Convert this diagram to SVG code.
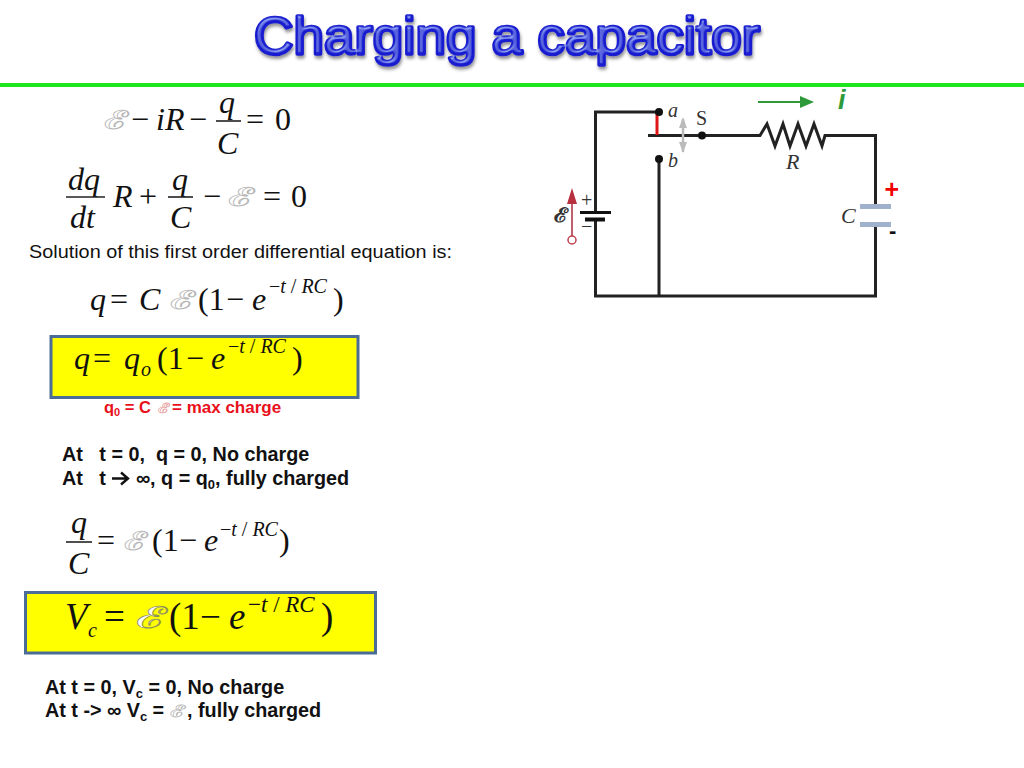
<svg xmlns="http://www.w3.org/2000/svg" width="1024" height="768" viewBox="0 0 1024 768">
<style>
.m{font-family:"Liberation Serif","Times New Roman",serif;font-size:32px;fill:#111}
.i{font-style:italic}
.s{font-size:20px}
.sc{font-family:"DejaVu Serif","Liberation Serif",serif;font-size:26px;fill:#fff;stroke:#b4b4b4;stroke-width:.6px}
.t{font-family:"Liberation Sans",Arial,sans-serif;font-weight:700;font-size:19.800px;fill:#111;white-space:pre}
.frac{stroke:#222;stroke-width:1.6;fill:none}
.w{stroke:#222;stroke-width:3;fill:none;stroke-linejoin:miter}
.l{font-family:"Liberation Serif",serif;font-size:20px;fill:#333}
.box{fill:#ffff00;stroke:#4a6c96;stroke-width:3}
.title{font-family:"Liberation Sans",sans-serif;font-size:52px;fill:#1a1fd0;stroke:#1a1fd0;stroke-width:3.5;stroke-linejoin:round;paint-order:stroke}
</style>
<defs>
<filter id="sh" x="-5%" y="-20%" width="110%" height="150%">
<feGaussianBlur in="SourceAlpha" stdDeviation="1.5" result="b"/>
<feSpecularLighting in="b" surfaceScale="3" specularConstant=".8" specularExponent="18" lighting-color="#9fb4ff" result="sp"><feDistantLight azimuth="250" elevation="50"/></feSpecularLighting>
<feComposite in="sp" in2="SourceAlpha" operator="in" result="spc"/>
<feDropShadow in="SourceGraphic" dx="1" dy="3" stdDeviation="1.5" flood-color="#333" flood-opacity=".5" result="ds"/>
<feMerge><feMergeNode in="ds"/><feMergeNode in="spc"/></feMerge>
</filter>
<marker id="ga" markerWidth="8" markerHeight="8" refX="6" refY="3" orient="auto"><path d="M0 0L7 3L0 6z" fill="#2e9a3a"/></marker>
</defs>
<rect width="1024" height="768" fill="#fff"/>
<text class="title" x="254" y="54" textLength="506" lengthAdjust="spacingAndGlyphs" filter="url(#sh)">Charging a capacitor</text>
<rect x="0" y="83" width="1024" height="4" fill="#1ee61e"/>

<g id="eq1">
<text class="sc" x="104" y="129" textLength="25" lengthAdjust="spacingAndGlyphs">ℰ</text><text class="m" x="131" y="130">−</text><text class="m i" x="156" y="130">iR</text><text class="m" x="189" y="130">−</text>
<text class="m i" x="219" y="113">q</text><path class="frac" d="M216 121H241"/><text class="m i" x="217" y="154">C</text><text class="m" x="246" y="130">=</text><text class="m" x="275" y="130">0</text>
</g>
<g id="eq2">
<text class="m i" x="68" y="190">dq</text><path class="frac" d="M66 197H105"/><text class="m i" x="70" y="228">dt</text><text class="m i" x="113" y="207">R</text><text class="m" x="139" y="207">+</text>
<text class="m i" x="172" y="190">q</text><path class="frac" d="M168 197H193"/><text class="m i" x="170" y="228">C</text><text class="m" x="203" y="207">−</text><text class="sc" x="228" y="206" textLength="27" lengthAdjust="spacingAndGlyphs">ℰ</text><text class="m" x="263" y="207">=</text><text class="m" x="291" y="207">0</text>
</g>
<text x="29" y="258" font-family="Liberation Sans,Arial,sans-serif" font-size="18" fill="#111" textLength="423" lengthAdjust="spacingAndGlyphs">Solution of this first order differential equation is:</text>
<g id="eq3">
<text class="m i" x="90" y="310">q</text><text class="m" x="110" y="310">=</text><text class="m i" x="139" y="310">C</text><text class="sc" x="170" y="309" textLength="26" lengthAdjust="spacingAndGlyphs">ℰ</text><text class="m" x="198" y="310">(1</text><text class="m" x="226" y="310">−</text><text class="m i" x="252" y="310">e</text><text class="m s" x="269" y="293">−<tspan class="i">t</tspan> / <tspan class="i">RC</tspan></text><text class="m" x="333" y="310">)</text>
</g>
<g id="box1">
<rect class="box" x="51" y="336.500" width="307" height="61"/>
<text class="m i" x="74" y="369">q</text><text class="m" x="93" y="369">=</text><text class="m i" x="124" y="369">q</text><text class="m i s" x="141" y="376">o</text><text class="m" x="157" y="369">(1</text><text class="m" x="186" y="369">−</text><text class="m i" x="211" y="369">e</text><text class="m s" x="228" y="353">−<tspan class="i">t</tspan> / <tspan class="i">RC</tspan></text><text class="m" x="292" y="369">)</text>
</g>
<g id="q0note">
<text class="t" x="104" y="413" style="font-size:16.500px;fill:#e8101c">q<tspan font-size="11" dy="3">0</tspan><tspan dy="-3"> = C</tspan></text><text class="sc" x="158" y="413" textLength="11" lengthAdjust="spacingAndGlyphs" style="font-size:14px;stroke:#e8a0a0;stroke-width:.5px">ℰ</text><text class="t" x="172" y="413" style="font-size:17px;fill:#e8101c">= max charge</text>
</g>
<g id="t1">
<text class="t" x="62" y="461" xml:space="preserve">At   t = 0,  q = 0, No charge</text>
<text class="t" x="62" y="485" xml:space="preserve">At   t</text><path d="M112 478.500H127M121 472.500L128 478.500L121 484.500" fill="none" stroke="#111" stroke-width="2.400"/><text class="t" x="136" y="485">∞, q = q<tspan font-size="13" dy="4">0</tspan><tspan dy="-4">, fully charged</tspan></text>
</g>
<g id="eq4">
<text class="m i" x="71" y="533">q</text><path class="frac" d="M66 542H92"/><text class="m i" x="68" y="574">C</text><text class="m" x="97" y="551">=</text><text class="sc" x="124" y="550" textLength="24" lengthAdjust="spacingAndGlyphs">ℰ</text><text class="m" x="152" y="551">(1</text><text class="m" x="179" y="551">−</text><text class="m i" x="204" y="551">e</text><text class="m s" x="220" y="536">−<tspan class="i">t</tspan> / <tspan class="i">RC</tspan></text><text class="m" x="279" y="551">)</text>
</g>
<g id="box2">
<rect class="box" x="25.500" y="592.500" width="350" height="60.500"/>
<text class="m i" x="65" y="629" style="font-size:37px">V</text><text class="m i s" x="88" y="637">c</text><text class="m" x="104" y="629" style="font-size:37px">=</text><text class="sc" x="136" y="628" textLength="31" lengthAdjust="spacingAndGlyphs" style="font-size:30px;stroke:#8f8f50">ℰ</text><text class="m" x="169" y="629" style="font-size:37px">(1</text><text class="m" x="200" y="629" style="font-size:37px">−</text><text class="m i" x="229" y="629" style="font-size:37px">e</text><text class="m" x="248" y="612" style="font-size:23px">−<tspan class="i">t</tspan> / <tspan class="i">RC</tspan></text><text class="m" x="321" y="629" style="font-size:37px">)</text>
</g>
<g id="t2">
<text class="t" x="45" y="694">At t = 0, V<tspan font-size="13" dy="4">c</tspan><tspan dy="-4"> = 0, No charge</tspan></text>
<text class="t" x="45" y="717">At t -&gt; ∞ V<tspan font-size="13" dy="4">c</tspan><tspan dy="-4"> =</tspan></text><text class="sc" x="170" y="717" textLength="15" lengthAdjust="spacingAndGlyphs" style="font-size:17px;stroke-width:.5px">ℰ</text><text class="t" x="187" y="717">, fully charged</text>
</g>

<g id="connectors">
<path class="w" d="M659 112H595.500V212M595.500 219V296H875.500V224M875.500 206V135.500H825L822 146L814 124L806 146L798 124L790 146L783 124L775 146L767 124L760 135.500H648M659 159V296"/>
<path d="M657 113V135" stroke="#e01515" stroke-width="3"/>
<path d="M683 119V152" stroke="#bbb" stroke-width="2.500"/><path d="M683 117L679 128H687zM683 153L679 142H687z" fill="#bbb"/>
<path d="M758 102H812" stroke="#2e9a3a" stroke-width="2" marker-end="url(#ga)"/>
<path d="M572 236V197" stroke="#c0606e" stroke-width="2"/><path d="M572 188L567 204H577z" fill="#b8303e"/><circle cx="572" cy="240" r="4" fill="#fff" stroke="#c0404e" stroke-width="1.500"/>
</g>
<g id="switch">
<circle cx="659" cy="112" r="4" fill="#111"/><circle cx="702" cy="135.500" r="4" fill="#111"/><circle cx="659" cy="159" r="4" fill="#111"/>
<text class="l i" x="668" y="117">a</text><text class="l" x="696" y="125">S</text><text class="l i" x="668" y="167">b</text>
</g>
<text id="rlabel" class="l i" x="786" y="169" style="font-size:22px">R</text>
<g id="battery">
<path d="M580 212.500H611" stroke="#111" stroke-width="3"/><path d="M585 219.500H605" stroke="#111" stroke-width="4"/>
<text class="l" x="581" y="207">+</text><text class="l" x="581" y="233">−</text>
<text class="m" x="554" y="222" textLength="14" lengthAdjust="spacingAndGlyphs" style="font-size:20px;font-weight:700;fill:#333">ℰ</text>
</g>
<g id="capacitor">
<rect x="860" y="204" width="31" height="5" fill="#9fb1cc"/><rect x="860" y="222" width="31" height="5" fill="#9fb1cc"/>
<text class="l i" x="841" y="223" style="font-size:22px">C</text>
<text x="884" y="198" font-family="Liberation Sans,sans-serif" font-weight="700" font-style="italic" font-size="25" fill="#f00000">+</text>
<text x="889" y="238" font-family="Liberation Sans,sans-serif" font-weight="700" font-size="22" fill="#111">-</text>
</g>
<text id="ilabel" x="838" y="109" font-family="Liberation Sans,sans-serif" font-weight="700" font-style="italic" font-size="27" fill="#2e9a3a">i</text>
</svg>
